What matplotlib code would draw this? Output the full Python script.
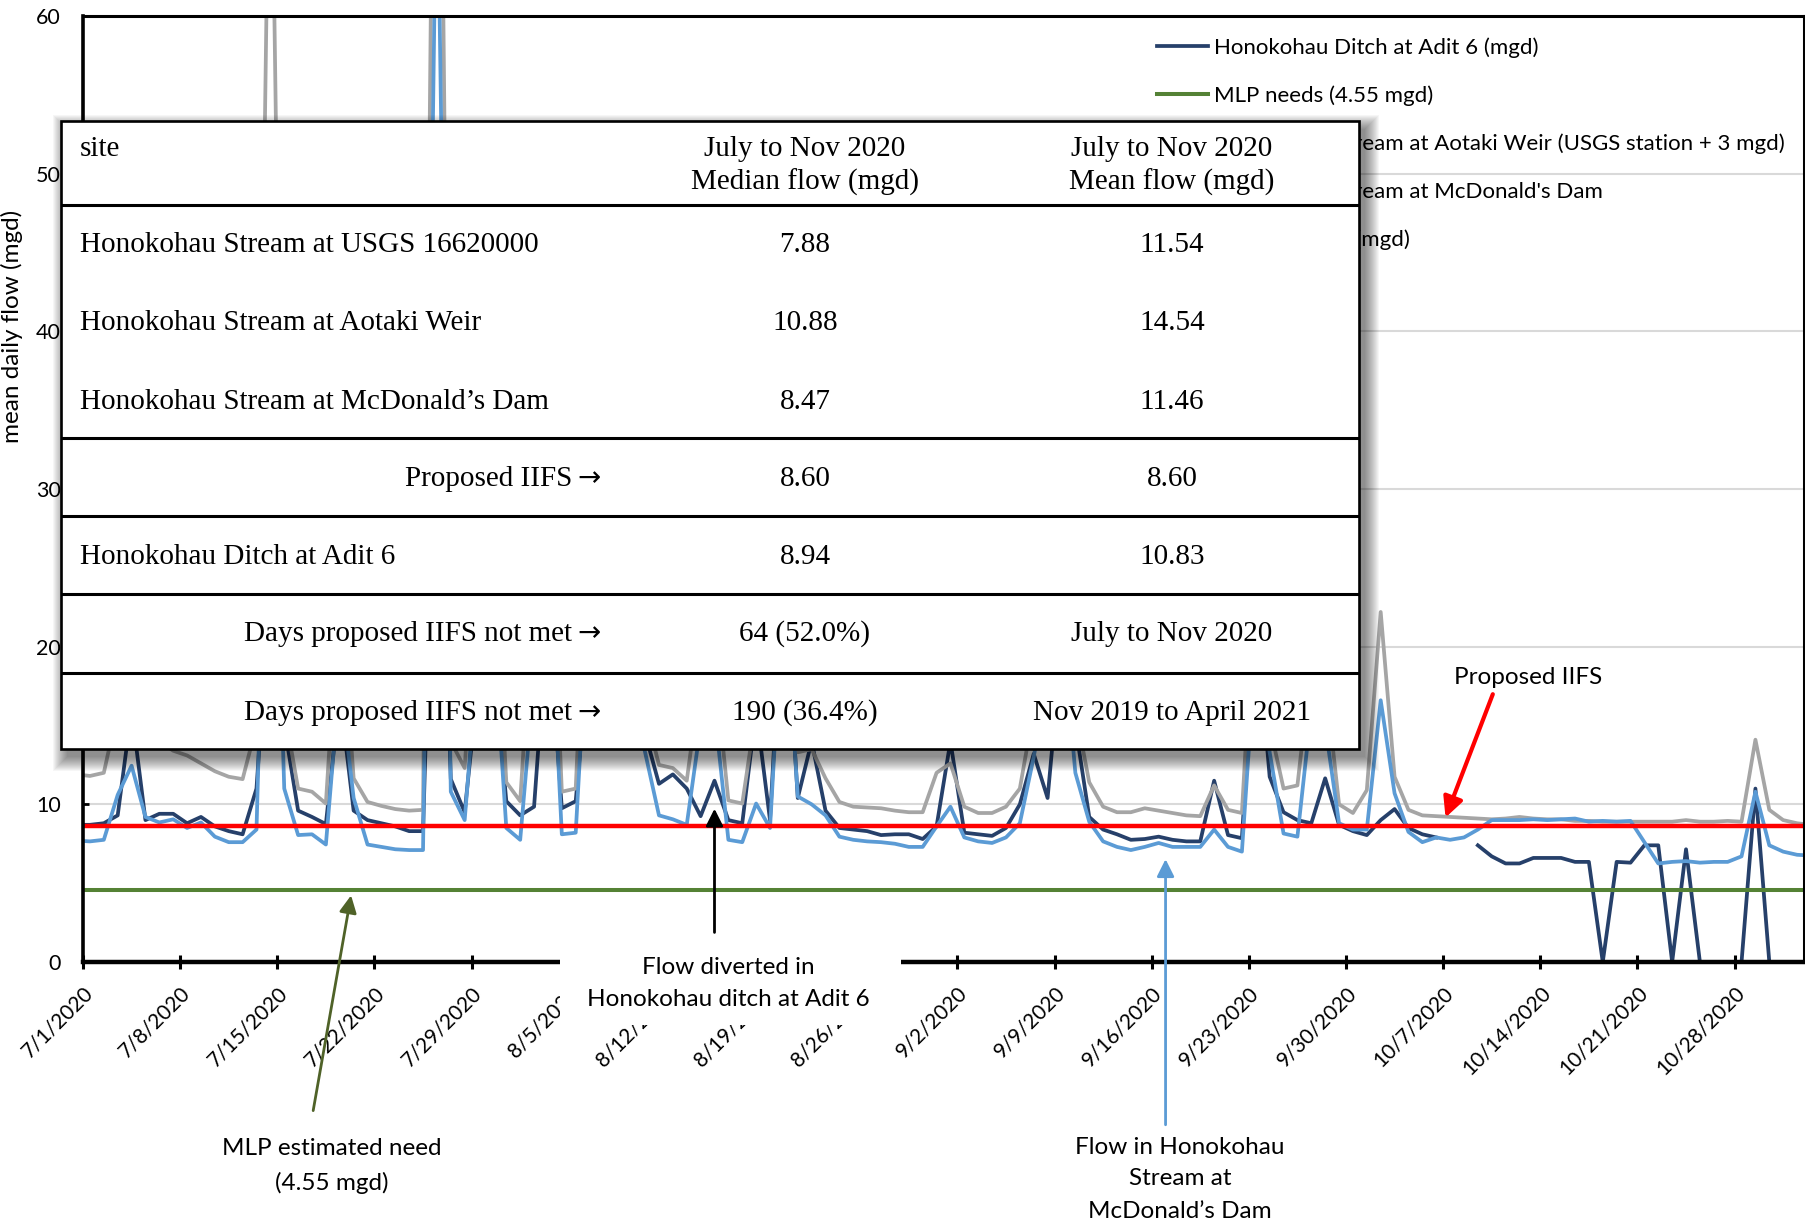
import matplotlib
matplotlib.use("Agg")
import matplotlib.pyplot as plt
from matplotlib.patches import Rectangle
import numpy as np
import pandas as pd

plt.rcParams['font.family'] = ['Lato', 'DejaVu Sans']

# daily mean flow (mgd), 6/30/2020 - 11/2/2020
dates = pd.date_range("2020-06-30", "2020-11-02", freq="D")

ditch_adit6 = [
    8.7, 8.7, 8.8, 9.3, 16.0, 9.0, 9.4, 9.4, 8.8, 9.2,
    8.6, 8.3, 8.1, 11.0, 24.0, 15.0, 9.6, 9.2, 8.75, 17.0,
    9.6, 9.0, 8.8, 8.6, 8.3, 8.3, 38.0, 11.6, 9.5, 18.0,
    20.0, 10.2, 9.3, 9.85, 22.0, 9.75, 10.2, 20.0, 28.0, 19.0,
    16.0, 14.5, 11.3, 11.9, 11.0, 9.25, 11.5, 9.0, 8.8, 16.0,
    9.0, 25.0, 10.4, 14.0, 9.6, 8.5, 8.4, 8.3, 8.05, 8.1,
    8.1, 7.8, 8.6, 14.0, 8.2, 8.1, 8.0, 8.5, 10.0, 13.2,
    10.4, 20.0, 15.0, 9.2, 8.4, 8.1, 7.75, 7.8, 7.95, 7.75,
    7.65, 7.65, 11.5, 8.05, 7.85, 22.0, 11.75, 9.5, 9.0, 8.8,
    11.65, 8.7, 8.3, 8.05, 9.0, 9.7, 8.5, 8.1, 7.9, np.nan,
    np.nan, 7.4, 6.7, 6.25, 6.25, 6.6, 6.6, 6.6, 6.35, 6.35,
    0.0, 6.35, 6.3, 7.4, 7.4, 0.0, 7.15, 0.0, 0.0, 0.0,
    0.0, 11.0, 0.0, 0.0, 0.0, 0.0,
]

# USGS station + 3 mgd
aotaki_weir = [
    11.9, 11.8, 12.0, 16.0, 20.0, 15.0, 14.0, 13.4, 13.1, 12.6,
    12.1, 11.75, 11.6, 15.0, 78.0, 16.0, 11.0, 10.8, 10.05, 24.0,
    11.65, 10.15, 9.9, 9.7, 9.6, 9.65, 100.0, 14.0, 12.3, 26.0,
    28.0, 11.4, 10.2, 24.0, 32.0, 10.8, 11.0, 30.0, 40.0, 28.0,
    22.0, 16.0, 12.5, 12.3, 11.5, 18.0, 19.0, 10.25, 10.05, 16.0,
    14.0, 30.0, 13.3, 13.5, 11.65, 10.15, 9.85, 9.8, 9.75, 9.6,
    9.5, 9.5, 12.0, 12.6, 9.85, 9.45, 9.45, 9.85, 11.0, 16.0,
    22.0, 26.0, 16.0, 11.4, 9.85, 9.5, 9.5, 9.75, 9.6, 9.45,
    9.3, 9.25, 11.2, 9.65, 9.45, 25.0, 15.0, 11.0, 11.2, 19.0,
    18.0, 10.0, 9.45, 10.9, 22.2, 11.75, 9.65, 9.3, 9.25, 9.2,
    9.15, 9.1, 9.05, 9.1, 9.2, 9.1, 9.05, 9.05, 8.95, 8.95,
    8.9, 8.9, 8.9, 8.9, 8.9, 8.9, 9.0, 8.9, 8.9, 8.95,
    8.9, 14.1, 9.65, 9.0, 8.8, 8.7,
]

mcdonalds_dam = [
    7.7, 7.65, 7.75, 10.6, 12.45, 9.2, 8.85, 9.05, 8.5, 8.85,
    7.95, 7.6, 7.6, 8.4, 40.0, 11.0, 8.05, 8.1, 7.45, 18.0,
    10.4, 7.45, 7.3, 7.15, 7.1, 7.1, 72.0, 10.8, 9.0, 20.0,
    22.0, 8.5, 7.75, 18.0, 26.0, 8.1, 8.2, 24.0, 32.0, 22.0,
    17.0, 13.3, 9.3, 9.05, 8.7, 15.0, 16.0, 7.75, 7.6, 10.05,
    8.5, 24.0, 10.5, 10.0, 9.3, 7.95, 7.75, 7.65, 7.6, 7.5,
    7.3, 7.3, 8.6, 9.85, 7.9, 7.65, 7.55, 7.9, 8.8, 13.0,
    18.0, 22.0, 12.0, 8.9, 7.65, 7.3, 7.1, 7.3, 7.55, 7.3,
    7.3, 7.3, 8.4, 7.3, 7.0, 20.0, 13.3, 8.15, 7.95, 16.0,
    15.0, 8.8, 8.4, 8.4, 16.6, 10.7, 8.25, 7.6, 7.9, 7.75,
    7.9, 8.4, 9.0, 9.0, 9.0, 9.05, 9.0, 9.05, 9.1, 8.9,
    8.95, 8.9, 8.95, 7.6, 6.25, 6.35, 6.4, 6.3, 6.35, 6.35,
    6.7, 10.8, 7.4, 7.0, 6.8, 6.75,
]

MLP_NEED = 4.55
PROPOSED_IIFS = 8.60

tick_dates = pd.date_range("2020-07-01", "2020-10-28", freq="7D")

legend_labels = [
    "Honokohau Ditch at Adit 6 (mgd)",
    "MLP needs (4.55 mgd)",
    "Honokohau Stream at Aotaki Weir (USGS station + 3 mgd)",
    "Honokohau Stream at McDonald's Dam",
    "Proposed IIFS (mgd)",
]

# summary table
site_names = [
    "Honokohau Stream at USGS 16620000",
    "Honokohau Stream at Aotaki Weir",
    "Honokohau Stream at McDonald\u2019s Dam",
]
median_flow = [7.88, 10.88, 8.47]
mean_flow = [11.54, 14.54, 11.46]
ditch_median, ditch_mean = 8.94, 10.83
days_not_met = [64, 190]
pct_not_met = [52.0, 36.4]
not_met_periods = ["July to Nov 2020", "Nov 2019 to April 2021"]

NAVY = "#26406A"
GRAY = "#A5A5A5"
BLUE = "#5B9BD5"
GREEN = "#548235"
RED = "#FF0000"

W, H = 1806, 1225
start = pd.Timestamp("2020-07-01")
x = (dates - start).days.values + 0.5   # daily means sit at mid-day

fig = plt.figure(figsize=(W / 100, H / 100), dpi=100)
ax = fig.add_axes([83 / W, 263 / H, 1721 / W, 946 / H])

h_ditch, = ax.plot(x, ditch_adit6, color=NAVY, lw=2.7)
h_mlp = ax.axhline(MLP_NEED, color=GREEN, lw=2.9)
h_weir, = ax.plot(x, aotaki_weir, color=GRAY, lw=2.7)
h_dam, = ax.plot(x, mcdonalds_dam, color=BLUE, lw=2.7)
h_iifs = ax.axhline(PROPOSED_IIFS, color=RED, lw=3.2)

ax.set_xlim(0, 124)
ax.set_ylim(0, 60)
ax.set_yticks(range(0, 70, 10))
ax.set_xticks((tick_dates - start).days)
ax.set_xticklabels([f"{d.month}/{d.day}/{d.year}" for d in tick_dates],
                   rotation=45, ha="right", va="top", rotation_mode="anchor")
ax.tick_params(axis="x", direction="inout", length=10, width=2.2, pad=10, labelsize=15)
ax.tick_params(axis="y", direction="in", length=4, width=2.0, pad=16, labelsize=15.5)
ax.yaxis.grid(True, color="#D9D9D9", lw=1.5)
ax.set_axisbelow(True)
for side, lw in [("left", 2.6), ("bottom", 3.2), ("top", 2.2), ("right", 2.2)]:
    ax.spines[side].set_linewidth(lw)
    ax.spines[side].set_color("black")

ax.set_ylabel("mean daily flow (mgd)", fontsize=17.5)
ax.yaxis.set_label_coords(-0.0415, 0.672)
ax.yaxis.label.set_verticalalignment("center")

ax.legend([h_ditch, h_mlp, h_weir, h_dam, h_iifs], legend_labels,
          loc="upper left", bbox_to_anchor=(1157 / W, 1 - 37 / H),
          bbox_transform=fig.transFigure, frameon=False, fontsize=16,
          borderpad=0, borderaxespad=0, handlelength=2.3, handletextpad=0.25,
          labelspacing=1.25)

# white patch hiding the axis behind the callout text
ax.add_patch(Rectangle((560 / W, 1 - 1025 / H), 341 / W, 80 / H,
                       transform=fig.transFigure, facecolor="white",
                       edgecolor="none", zorder=3, clip_on=False))

# callouts
NOTE = 17.5
ax.annotate("", xy=(98.1, 9.0), xytext=(101.65, 17.15),
            arrowprops=dict(arrowstyle="-|>", color=RED, lw=3.0, mutation_scale=30),
            annotation_clip=False, zorder=4)
ax.text(104.1, 18.05, "Proposed IIFS", fontsize=NOTE, ha="center", va="center", zorder=4)

ax.annotate("", xy=(45.5, 9.9), xytext=(45.5, 1.7),
            arrowprops=dict(arrowstyle="-|>", color="black", lw=2.0, mutation_scale=26),
            annotation_clip=False, zorder=4)
ax.text(46.5, -0.35, "Flow diverted in", fontsize=NOTE, ha="center", va="center", zorder=4)
ax.text(46.5, -2.4, "Honokohau ditch at Adit 6", fontsize=NOTE, ha="center", va="center", zorder=4)

ax.annotate("", xy=(19.35, 4.4), xytext=(16.55, -9.6),
            arrowprops=dict(arrowstyle="-|>", color="#4F6228", lw=2.0, mutation_scale=26),
            annotation_clip=False, zorder=4)
ax.text(17.9, -11.85, "MLP estimated need", fontsize=NOTE, ha="center", va="center")
ax.text(17.9, -14.0, "(4.55 mgd)", fontsize=NOTE, ha="center", va="center")

ax.annotate("", xy=(78.0, 6.7), xytext=(78.0, -10.5),
            arrowprops=dict(arrowstyle="-|>", color=BLUE, lw=2.0, mutation_scale=26),
            annotation_clip=False, zorder=4)
ax.text(79.05, -11.75, "Flow in Honokohau", fontsize=NOTE, ha="center", va="center")
ax.text(79.05, -13.75, "Stream at", fontsize=NOTE, ha="center", va="center")
ax.text(79.05, -15.8, "McDonald\u2019s Dam", fontsize=NOTE, ha="center", va="center")

# summary table laid over the chart, in pixel units
ov = fig.add_axes([0, 0, 1, 1], zorder=10)
ov.set_xlim(0, W)
ov.set_ylim(H, 0)
ov.axis("off")

T_L, T_R, T_T, T_B = 61, 1359, 121, 749
for r in np.linspace(14, 0, 15):
    ov.add_patch(Rectangle((T_L + 6 - r, T_T + 8 - r), (T_R - T_L) + 2 * r,
                           (T_B - T_T) + 2 * r, facecolor="black", alpha=0.035,
                           edgecolor="none"))
ov.add_patch(Rectangle((T_L, T_T), T_R - T_L, T_B - T_T, facecolor="white",
                       edgecolor="black", lw=1.9))
for yy in [205, 438, 516, 594, 673]:
    ov.plot([T_L, T_R], [yy, yy], color="black", lw=2.2, solid_capstyle="butt")

serif = dict(family=["Liberation Serif", "DejaVu Serif"], fontsize=21, va="center")
arrow_font = dict(family="DejaVu Sans", fontsize=20, va="center", ha="left")
C1, C2, C3 = 80, 805, 1172
C_LBL, C_ARROW = 572, 577   # right edge of row captions, start of their arrows

ov.text(C1, 149, "site", ha="left", **serif)
ov.text(C2, 149, "July to Nov 2020", ha="center", **serif)
ov.text(C2, 182, "Median flow (mgd)", ha="center", **serif)
ov.text(C3, 149, "July to Nov 2020", ha="center", **serif)
ov.text(C3, 182, "Mean flow (mgd)", ha="center", **serif)

for name, med, mean, yy in zip(site_names, median_flow, mean_flow, [245, 323, 402]):
    ov.text(C1, yy, name, ha="left", **serif)
    ov.text(C2, yy, f"{med:.2f}", ha="center", **serif)
    ov.text(C3, yy, f"{mean:.2f}", ha="center", **serif)

ov.text(C_LBL, 479, "Proposed IIFS", ha="right", **serif)
ov.text(C_ARROW, 478, "\u2192", **arrow_font)
ov.text(C2, 479, f"{PROPOSED_IIFS:.2f}", ha="center", **serif)
ov.text(C3, 479, f"{PROPOSED_IIFS:.2f}", ha="center", **serif)

ov.text(C1, 557, "Honokohau Ditch at Adit 6", ha="left", **serif)
ov.text(C2, 557, f"{ditch_median:.2f}", ha="center", **serif)
ov.text(C3, 557, f"{ditch_mean:.2f}", ha="center", **serif)

for n, pct, period, yy in zip(days_not_met, pct_not_met, not_met_periods, [634, 713]):
    ov.text(C_LBL, yy, "Days proposed IIFS not met", ha="right", **serif)
    ov.text(C_ARROW, yy - 1, "\u2192", **arrow_font)
    ov.text(C2, yy, f"{n} ({pct:.1f}%)", ha="center", **serif)
    ov.text(C3, yy, period, ha="center", **serif)

fig.savefig("out.png", dpi=100)
